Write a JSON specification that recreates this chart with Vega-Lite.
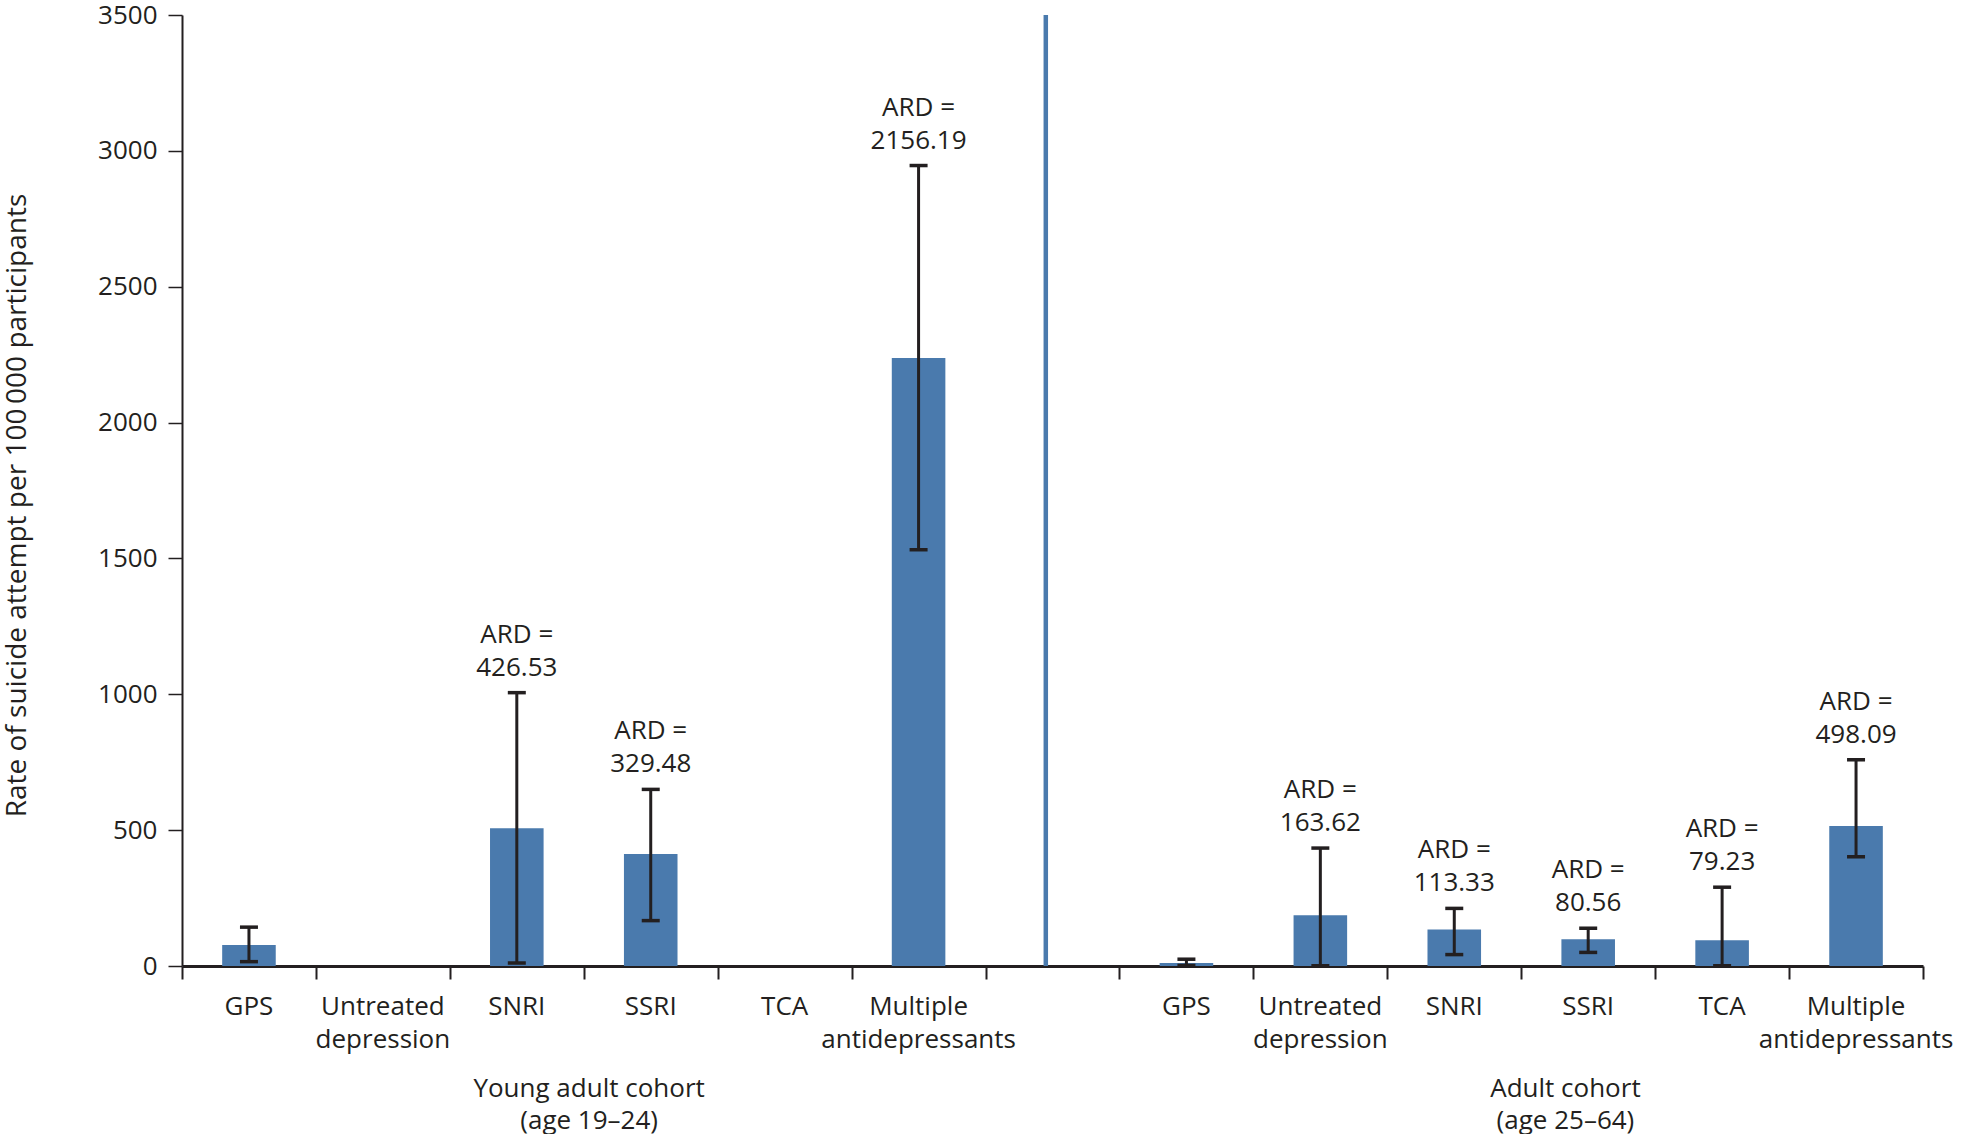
{
  "$schema": "https://vega.github.io/schema/vega-lite/v6.json",
  "width": 1741,
  "height": 951,
  "padding": {"left": 3, "top": 2, "right": 0, "bottom": 0},
  "background": "white",
  "config": {
    "font": "Open Sans",
    "view": {"stroke": null},
    "text": {"font": "Open Sans", "fontSize": 26, "color": "#231f20"}
  },
  "datasets": {
    "rates": [
      {"slot": "Y|GPS", "cohort": "Young adult", "treatment": "GPS", "rate": 77, "lower": 16, "upper": 143, "ard": null},
      {"slot": "Y|SNRI", "cohort": "Young adult", "treatment": "SNRI", "rate": 507, "lower": 11, "upper": 1006, "ard": "426.53"},
      {"slot": "Y|SSRI", "cohort": "Young adult", "treatment": "SSRI", "rate": 412, "lower": 167, "upper": 650, "ard": "329.48"},
      {"slot": "Y|Multiple antidepressants", "cohort": "Young adult", "treatment": "Multiple antidepressants", "rate": 2238, "lower": 1532, "upper": 2946, "ard": "2156.19"},
      {"slot": "A|GPS", "cohort": "Adult", "treatment": "GPS", "rate": 11, "lower": 2, "upper": 25, "ard": null},
      {"slot": "A|Untreated depression", "cohort": "Adult", "treatment": "Untreated depression", "rate": 187, "lower": 1, "upper": 434, "ard": "163.62"},
      {"slot": "A|SNRI", "cohort": "Adult", "treatment": "SNRI", "rate": 134, "lower": 42, "upper": 212, "ard": "113.33"},
      {"slot": "A|SSRI", "cohort": "Adult", "treatment": "SSRI", "rate": 98, "lower": 50, "upper": 139, "ard": "80.56"},
      {"slot": "A|TCA", "cohort": "Adult", "treatment": "TCA", "rate": 95, "lower": 1, "upper": 290, "ard": "79.23"},
      {"slot": "A|Multiple antidepressants", "cohort": "Adult", "treatment": "Multiple antidepressants", "rate": 515, "lower": 402, "upper": 759, "ard": "498.09"}
    ],
    "labels": [
      {"slot": "Y|GPS", "line1": "GPS", "line2": ""},
      {"slot": "Y|Untreated depression", "line1": "Untreated", "line2": "depression"},
      {"slot": "Y|SNRI", "line1": "SNRI", "line2": ""},
      {"slot": "Y|SSRI", "line1": "SSRI", "line2": ""},
      {"slot": "Y|TCA", "line1": "TCA", "line2": ""},
      {"slot": "Y|Multiple antidepressants", "line1": "Multiple", "line2": "antidepressants"},
      {"slot": "A|GPS", "line1": "GPS", "line2": ""},
      {"slot": "A|Untreated depression", "line1": "Untreated", "line2": "depression"},
      {"slot": "A|SNRI", "line1": "SNRI", "line2": ""},
      {"slot": "A|SSRI", "line1": "SSRI", "line2": ""},
      {"slot": "A|TCA", "line1": "TCA", "line2": ""},
      {"slot": "A|Multiple antidepressants", "line1": "Multiple", "line2": "antidepressants"}
    ]
  },
  "data": {"name": "rates"},
  "encoding": {
    "x": {
      "field": "slot",
      "type": "nominal",
      "scale": {
        "domain": [
          "Y|GPS", "Y|Untreated depression", "Y|SNRI", "Y|SSRI", "Y|TCA", "Y|Multiple antidepressants",
          "gap",
          "A|GPS", "A|Untreated depression", "A|SNRI", "A|SSRI", "A|TCA", "A|Multiple antidepressants"
        ],
        "paddingInner": 0,
        "paddingOuter": 0
      },
      "axis": {
        "title": null,
        "labels": false,
        "tickBand": "extent",
        "tickSize": 13,
        "tickWidth": 2,
        "tickColor": "#231f20",
        "domainColor": "#231f20",
        "domainWidth": 3,
        "grid": false
      }
    }
  },
  "layer": [
    {
      "mark": {"type": "bar", "width": {"band": 0.4}, "color": "#4a7aad"},
      "encoding": {
        "y": {
          "field": "rate",
          "type": "quantitative",
          "scale": {"domain": [0, 3500], "nice": false},
          "axis": {
            "title": "Rate of suicide attempt per 100\u2009000 participants",
            "titleFont": "Open Sans",
            "titleFontSize": 28,
            "titleFontWeight": "normal",
            "titleColor": "#231f20",
            "titlePadding": 66,
            "titleY": 490,
            "values": [0, 500, 1000, 1500, 2000, 2500, 3000, 3500],
            "format": "d",
            "labelFont": "Open Sans",
            "labelFontSize": 26,
            "labelColor": "#231f20",
            "labelPadding": 11,
            "tickSize": 14,
            "tickWidth": 1.5,
            "tickColor": "#231f20",
            "domainColor": "#231f20",
            "domainWidth": 2,
            "grid": false
          }
        }
      }
    },
    {
      "mark": {"type": "rule", "strokeWidth": 3, "color": "#231f20"},
      "encoding": {
        "y": {"field": "lower", "type": "quantitative"},
        "y2": {"field": "upper"}
      }
    },
    {
      "mark": {"type": "tick", "size": 18, "thickness": 3.5, "color": "#231f20", "opacity": 1},
      "encoding": {"y": {"field": "upper", "type": "quantitative"}}
    },
    {
      "mark": {"type": "tick", "size": 18, "thickness": 3.5, "color": "#231f20", "opacity": 1},
      "encoding": {"y": {"field": "lower", "type": "quantitative"}}
    },
    {
      "transform": [{"filter": "datum.ard != null"}],
      "mark": {"type": "text", "baseline": "middle", "align": "center", "dy": -58},
      "encoding": {
        "y": {"field": "upper", "type": "quantitative"},
        "text": {"value": "ARD ="}
      }
    },
    {
      "transform": [{"filter": "datum.ard != null"}],
      "mark": {"type": "text", "baseline": "middle", "align": "center", "dy": -25},
      "encoding": {
        "y": {"field": "upper", "type": "quantitative"},
        "text": {"field": "ard", "type": "nominal"}
      }
    },
    {
      "data": {"values": [{"slot": "gap", "from": 0, "to": 3500}]},
      "mark": {"type": "rule", "strokeWidth": 4.5, "color": "#4a7aad"},
      "encoding": {
        "x": {"field": "slot", "type": "nominal", "bandPosition": 0.45},
        "y": {"field": "from", "type": "quantitative"},
        "y2": {"field": "to"}
      }
    },
    {
      "data": {"name": "labels"},
      "mark": {"type": "text", "baseline": "middle", "align": "center", "dy": 41},
      "encoding": {
        "y": {"datum": 0, "type": "quantitative"},
        "text": {"field": "line1", "type": "nominal"}
      }
    },
    {
      "data": {"name": "labels"},
      "transform": [{"filter": "datum.line2 != ''"}],
      "mark": {"type": "text", "baseline": "middle", "align": "center", "dy": 74},
      "encoding": {
        "y": {"datum": 0, "type": "quantitative"},
        "text": {"field": "line2", "type": "nominal"}
      }
    },
    {
      "data": {"values": [{"slot": "Y|SSRI", "line1": "Young adult cohort", "line2": "(age 19–24)"}]},
      "mark": {"type": "text", "baseline": "middle", "align": "center", "dy": 123},
      "encoding": {
        "x": {"field": "slot", "type": "nominal", "bandPosition": 0.04},
        "y": {"datum": 0, "type": "quantitative"},
        "text": {"field": "line1", "type": "nominal"}
      }
    },
    {
      "data": {"values": [{"slot": "Y|SSRI", "line1": "Young adult cohort", "line2": "(age 19–24)"}]},
      "mark": {"type": "text", "baseline": "middle", "align": "center", "dy": 155},
      "encoding": {
        "x": {"field": "slot", "type": "nominal", "bandPosition": 0.04},
        "y": {"datum": 0, "type": "quantitative"},
        "text": {"field": "line2", "type": "nominal"}
      }
    },
    {
      "data": {"values": [{"slot": "A|SSRI", "line1": "Adult cohort", "line2": "(age 25–64)"}]},
      "mark": {"type": "text", "baseline": "middle", "align": "center", "dy": 123},
      "encoding": {
        "x": {"field": "slot", "type": "nominal", "bandPosition": 0.33},
        "y": {"datum": 0, "type": "quantitative"},
        "text": {"field": "line1", "type": "nominal"}
      }
    },
    {
      "data": {"values": [{"slot": "A|SSRI", "line1": "Adult cohort", "line2": "(age 25–64)"}]},
      "mark": {"type": "text", "baseline": "middle", "align": "center", "dy": 155},
      "encoding": {
        "x": {"field": "slot", "type": "nominal", "bandPosition": 0.33},
        "y": {"datum": 0, "type": "quantitative"},
        "text": {"field": "line2", "type": "nominal"}
      }
    }
  ]
}
